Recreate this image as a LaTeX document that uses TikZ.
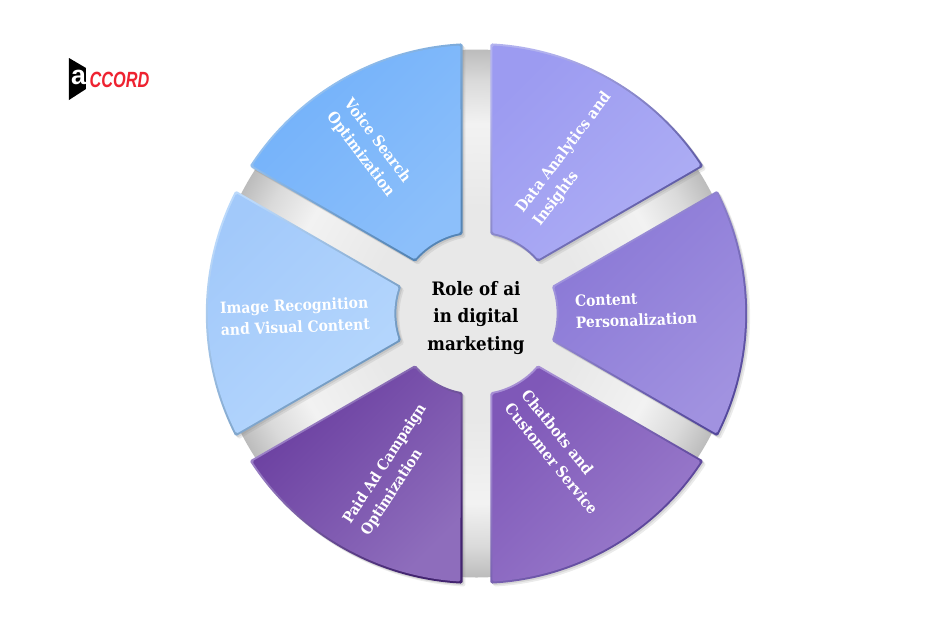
\documentclass[tikz,border=0pt]{standalone}
\usepackage{fontspec}
\setmainfont{DejaVu Serif Condensed}
\newfontfamily\logofont{Liberation Sans}
\usepackage{tikz}
\usetikzlibrary{shadows}
\definecolor{hubgrey}{HTML}{E8E8E8}
\definecolor{rimlight}{HTML}{F2F2F2}
\definecolor{rimmid}{HTML}{DADADA}
\definecolor{rimdark}{HTML}{BCBCBC}
\definecolor{dataA}{HTML}{9C9BF1}
\definecolor{dataB}{HTML}{AEAEF4}
\definecolor{dataL}{HTML}{B2B2EE}
\definecolor{dataD}{HTML}{54509C}
\definecolor{contA}{HTML}{8A78D6}
\definecolor{contB}{HTML}{A192E0}
\definecolor{contL}{HTML}{A99CE4}
\definecolor{contD}{HTML}{55499C}
\definecolor{chatA}{HTML}{7F58B8}
\definecolor{chatB}{HTML}{9A7CCC}
\definecolor{chatL}{HTML}{A68ED4}
\definecolor{chatD}{HTML}{4E3890}
\definecolor{paidA}{HTML}{693D9F}
\definecolor{paidB}{HTML}{8E6DBC}
\definecolor{paidL}{HTML}{A78CD2}
\definecolor{paidD}{HTML}{42246F}
\definecolor{imgA}{HTML}{A2C9FA}
\definecolor{imgB}{HTML}{B6D7FD}
\definecolor{imgL}{HTML}{BBD9FB}
\definecolor{imgD}{HTML}{6790B8}
\definecolor{voiceA}{HTML}{72B1FA}
\definecolor{voiceB}{HTML}{8CBFFA}
\definecolor{voiceL}{HTML}{A0CCFB}
\definecolor{voiceD}{HTML}{5585B5}
\definecolor{logored}{HTML}{EE2230}
\pgfdeclareradialshading{rimgrey}{\pgfpointorigin}{color(0bp)=(hubgrey);color(10bp)=(hubgrey);color(18bp)=(rimlight);color(22bp)=(rimmid);color(25bp)=(rimdark);color(50bp)=(rimdark)}
\newcommand{\wedgepath}[4]{({#1+30-asin(#2/#3)}:#3) arc[start angle={#1+30-asin(#2/#3)},end angle={#1-30+asin(#2/#3)},radius=#3] -- ({#1-30+asin(#2/#4)}:#4) arc[start angle={#1-30+asin(#2/#4)},end angle={#1+30-asin(#2/#4)},radius=#4] -- cycle}
\tikzset{
	wedge/.style 2 args={top color=#1,bottom color=#2,middle color=#1!50!#2,shading angle=45,rounded corners=1.2},
	wedgeshadow/.style={drop shadow={shadow xshift=2.2pt,shadow yshift=-2.2pt,opacity=.16},drop shadow={shadow xshift=1.1pt,shadow yshift=-1.1pt,opacity=.2}},
	wedgetext/.style={inner sep=0pt,align=left,text=white,font=\fontsize{11.6}{16.1}\selectfont\bfseries}
}
\begin{document}
\begin{tikzpicture}[x=.75pt,y=.75pt]
	\useasboundingbox (-476.5,-319.5) rectangle (466.5,313.5);
	\shade[shading=rimgrey] (0,0) circle (264);
	\foreach \ang/\fromc/\toc/\litc/\darkc in {60/dataA/dataB/dataL/dataD,0/contA/contB/contL/contD,-60/chatA/chatB/chatL/chatD,-120/paidA/paidB/paidL/paidD,180/imgA/imgB/imgL/imgD,120/voiceA/voiceB/voiceL/voiceD} {
		\path[wedgeshadow,wedge={\litc}{\darkc}] \wedgepath{\ang}{14}{270.5}{80};
		\path[wedge={\fromc}{\toc}] \wedgepath{\ang}{16}{268.5}{82};
	}
	\node (hub) at (-.5,-4.5) [inner sep=0pt,align=center,text=black,font=\fontsize{13.9}{20.6}\selectfont\bfseries] {Role of ai\\in digital\\marketing};
	\node (data) at (96,154.1) [wedgetext,rotate=53] {Data Analytics and\\Insights};
	\node (content) at (159.5,4) [wedgetext,rotate=2.2] {Content\\Personalization};
	\node (chatbots) at (83.5,-138.5) [wedgetext,rotate=-51] {Chatbots and\\Customer Service};
	\node (paid) at (-82.5,-156.5) [wedgetext,rotate=57,font=\fontsize{11.3}{16.1}\selectfont\bfseries] {Paid Ad Campaign\\Optimization};
	\node (image) at (-181.5,-2.5) [wedgetext,rotate=2.2] {Image Recognition\\and Visual Content};
	\node (voice) at (-107.5,165.5) [wedgetext,rotate=-53] {Voice Search\\Optimization};
	% logo
	\fill[black] (-407.5,255.5) -- (-390.5,245.5) -- (-390.5,224.5) -- (-407.5,213.5) -- cycle;
	\node (logoa) at (-398,236) [inner sep=0pt,text=white,font=\logofont\bfseries\fontsize{20}{20}\selectfont] {a};
	\node (logoname) at (-357,233.5) [inner sep=0pt,text=logored,xscale=.74,font=\logofont\bfseries\itshape\fontsize{16.5}{16.5}\selectfont] {CCORD};
\end{tikzpicture}
\end{document}
